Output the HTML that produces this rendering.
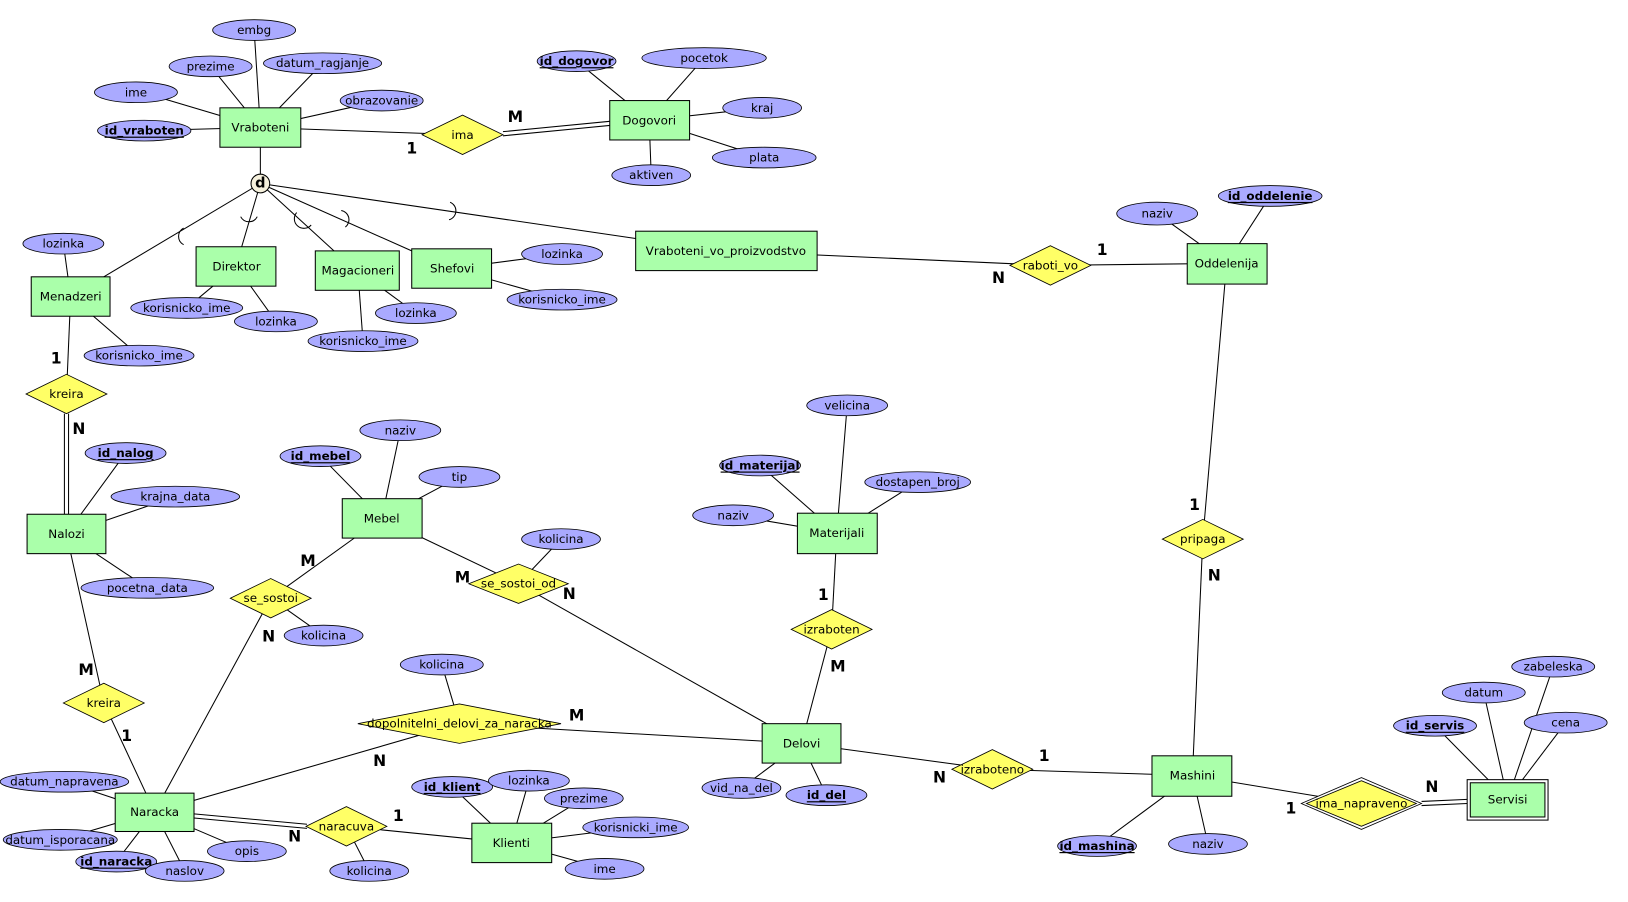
<!DOCTYPE html>
<html><head><meta charset="utf-8"><style>
html,body{margin:0;padding:0;background:#fff;}
svg{display:block;}
text{font-family:"DejaVu Sans","Liberation Sans",sans-serif;font-size:11.5px;fill:#000;text-anchor:middle;dominant-baseline:central;}
.b{font-weight:bold;text-decoration:underline;}
.c{font-weight:bold;font-size:15px;}
.en{fill:#aaffaa;stroke:#000;stroke-width:1;}
.at{fill:#aaaaff;stroke:#000;stroke-width:0.8;}
.rl{fill:#ffff66;stroke:#000;stroke-width:0.8;}
line,path.l{stroke:#000;stroke-width:1;fill:none;}
</style></head><body>
<svg width="1628" height="902" viewBox="0 0 1570 870" xmlns="http://www.w3.org/2000/svg">
<g id="lines">
<!-- Vraboteni attrs -->
<line x1="251" y1="123" x2="245" y2="29"/><line x1="251" y1="123" x2="203" y2="64"/><line x1="251" y1="123" x2="311" y2="61"/>
<line x1="251" y1="123" x2="150" y2="93"/><line x1="251" y1="123" x2="368" y2="97"/><line x1="251" y1="123" x2="139" y2="126"/>
<!-- Dogovori attrs -->
<line x1="626" y1="116" x2="556" y2="59"/><line x1="626" y1="116" x2="679" y2="56"/><line x1="626" y1="116" x2="735" y2="104"/>
<line x1="626" y1="116" x2="737" y2="152"/><line x1="626" y1="116" x2="628" y2="169"/>
<line x1="251" y1="123" x2="446" y2="130"/>
<line x1="485" y1="127" x2="588" y2="117"/><line x1="485" y1="131" x2="588" y2="121"/>
<!-- ISA -->
<line x1="251" y1="142" x2="251" y2="177"/>
<line x1="251" y1="177" x2="100" y2="267"/><line x1="251" y1="177" x2="233" y2="238"/>
<line x1="251" y1="177" x2="322" y2="242"/><line x1="251" y1="177" x2="397" y2="242"/>
<line x1="251" y1="177" x2="613" y2="230"/>
<path class="l" d="M177 220 A9 9 0 0 0 177 236"/>
<path class="l" d="M232 209 A9 9 0 0 0 248 209"/>
<path class="l" d="M286 205 A9 9 0 0 0 300 217"/>
<path class="l" d="M329 203 A9 9 0 0 1 333 219"/>
<path class="l" d="M434 195 A9 9 0 0 1 433 212"/>
<!-- sub attrs -->
<line x1="68" y1="286" x2="61" y2="235"/><line x1="68" y1="286" x2="134" y2="343"/>
<line x1="228" y1="257" x2="180" y2="297"/><line x1="228" y1="257" x2="266" y2="310"/>
<line x1="345" y1="261" x2="401" y2="302"/><line x1="345" y1="261" x2="350" y2="329"/>
<line x1="435" y1="259" x2="542" y2="245"/><line x1="435" y1="259" x2="542" y2="289"/>
<!-- raboti_vo -->
<line x1="700" y1="242" x2="1013" y2="256"/><line x1="1013" y1="256" x2="1183" y2="254"/>
<line x1="1183" y1="254" x2="1116" y2="206"/><line x1="1183" y1="254" x2="1225" y2="189"/>
<line x1="1183" y1="254" x2="1160" y2="520"/><line x1="1160" y1="520" x2="1150" y2="748"/>
<!-- kreira top -->
<line x1="68" y1="286" x2="64" y2="380"/>
<line x1="62" y1="399" x2="62" y2="496"/><line x1="66" y1="399" x2="66" y2="496"/>
<line x1="64" y1="515" x2="121" y2="437"/><line x1="64" y1="515" x2="169" y2="479"/><line x1="64" y1="515" x2="142" y2="567"/>
<line x1="64" y1="515" x2="100" y2="678"/><line x1="100" y1="678" x2="149" y2="783"/>
<!-- Mebel -->
<line x1="368" y1="500" x2="386" y2="415"/><line x1="368" y1="500" x2="309" y2="440"/><line x1="368" y1="500" x2="443" y2="460"/>
<line x1="368" y1="500" x2="261" y2="577"/><line x1="261" y1="577" x2="149" y2="783"/><line x1="261" y1="577" x2="312" y2="613"/>
<line x1="368" y1="500" x2="500" y2="563"/><line x1="500" y1="563" x2="773" y2="717"/><line x1="500" y1="563" x2="541" y2="520"/>
<!-- Materijali -->
<line x1="807" y1="514" x2="817" y2="391"/><line x1="807" y1="514" x2="733" y2="449"/><line x1="807" y1="514" x2="885" y2="465"/><line x1="807" y1="514" x2="707" y2="497"/>
<line x1="807" y1="514" x2="802" y2="607"/><line x1="802" y1="607" x2="773" y2="717"/>
<!-- dopoln -->
<line x1="149" y1="783" x2="443" y2="698"/><line x1="443" y1="698" x2="773" y2="717"/><line x1="443" y1="698" x2="426" y2="641"/>
<!-- Delovi -->
<line x1="773" y1="717" x2="715" y2="760"/><line x1="773" y1="717" x2="797" y2="767"/>
<line x1="773" y1="717" x2="957" y2="742"/><line x1="957" y1="742" x2="1150" y2="748"/>
<!-- Mashini -->
<line x1="1150" y1="748" x2="1058" y2="816"/><line x1="1150" y1="748" x2="1165" y2="814"/>
<line x1="1150" y1="748" x2="1313" y2="775"/>
<line x1="1371" y1="773" x2="1415" y2="771"/><line x1="1371" y1="777" x2="1415" y2="775"/>
<!-- Servisi -->
<line x1="1454" y1="771" x2="1384" y2="700"/><line x1="1454" y1="771" x2="1431" y2="668"/><line x1="1454" y1="771" x2="1498" y2="643"/><line x1="1454" y1="771" x2="1510" y2="697"/>
<!-- Naracka -->
<line x1="149" y1="783" x2="62" y2="754"/><line x1="149" y1="783" x2="58" y2="810"/><line x1="149" y1="783" x2="112" y2="831"/>
<line x1="149" y1="783" x2="178" y2="840"/><line x1="149" y1="783" x2="238" y2="821"/>
<line x1="187" y1="785" x2="296" y2="795"/><line x1="187" y1="789" x2="296" y2="799"/>
<line x1="334" y1="797" x2="493" y2="813"/><line x1="334" y1="797" x2="356" y2="840"/>
<!-- Klienti -->
<line x1="493" y1="813" x2="436" y2="759"/><line x1="493" y1="813" x2="510" y2="753"/><line x1="493" y1="813" x2="563" y2="770"/>
<line x1="493" y1="813" x2="613" y2="798"/><line x1="493" y1="813" x2="583" y2="838"/>
</g>

<g id="entities">
<rect class="en" x="212" y="104" width="78" height="38"/><text x="251" y="123">Vraboteni</text>
<rect class="en" x="588" y="97" width="77" height="38"/><text x="626" y="116">Dogovori</text>
<rect class="en" x="613" y="223" width="175" height="38"/><text x="700" y="242">Vraboteni_vo_proizvodstvo</text>
<rect class="en" x="1145" y="235" width="77" height="39"/><text x="1183" y="254">Oddelenija</text>
<rect class="en" x="30" y="267" width="76" height="38"/><text x="68" y="286">Menadzeri</text>
<rect class="en" x="189" y="238" width="77" height="38"/><text x="228" y="257">Direktor</text>
<rect class="en" x="304" y="242" width="81" height="38"/><text x="345" y="261">Magacioneri</text>
<rect class="en" x="397" y="240" width="77" height="38"/><text x="436" y="259">Shefovi</text>
<rect class="en" x="26" y="496" width="76" height="38"/><text x="64" y="515">Nalozi</text>
<rect class="en" x="330" y="481" width="77" height="38"/><text x="368" y="500">Mebel</text>
<rect class="en" x="769" y="495" width="77" height="39"/><text x="807" y="514">Materijali</text>
<rect class="en" x="735" y="698" width="76" height="38"/><text x="773" y="717">Delovi</text>
<rect class="en" x="1111" y="729" width="77" height="39"/><text x="1150" y="748">Mashini</text>
<rect x="1415" y="752" width="78" height="39" fill="#fff" stroke="#000"/><rect class="en" x="1418" y="755" width="72" height="33"/><text x="1454" y="771">Servisi</text>
<rect class="en" x="111" y="765" width="76" height="37"/><text x="149" y="783">Naracka</text>
<rect class="en" x="455" y="794" width="77" height="38"/><text x="493" y="813">Klienti</text>
</g>

<g id="rels">
<polygon class="rl" points="407,130 446,111 485,130 446,149"/><text x="446" y="130">ima</text>
<polygon class="rl" points="974,256 1013,237 1052,256 1013,275"/><text x="1013" y="256">raboti_vo</text>
<polygon class="rl" points="25,380 64,361 103,380 64,399"/><text x="64" y="380">kreira</text>
<polygon class="rl" points="1121,520 1160,501 1199,520 1160,539"/><text x="1160" y="520">pripaga</text>
<polygon class="rl" points="61,678 100,659 139,678 100,697"/><text x="100" y="678">kreira</text>
<polygon class="rl" points="222,577 261,558 300,577 261,596"/><text x="261" y="577">se_sostoi</text>
<polygon class="rl" points="452,563 500,544 548,563 500,582"/><text x="500" y="563">se_sostoi_od</text>
<polygon class="rl" points="763,607 802,588 841,607 802,626"/><text x="802" y="607">izraboten</text>
<polygon class="rl" points="345,698 443,679 541,698 443,717"/><text x="443" y="698">dopolnitelni_delovi_za_naracka</text>
<polygon class="rl" points="918,742 957,723 996,742 957,761"/><text x="957" y="742">izraboteno</text>
<polygon class="rl" points="295,797 334,778 373,797 334,816"/><text x="334" y="797">naracuva</text>
<polygon points="1255,775 1313,750 1371,775 1313,800" fill="#fff" stroke="#000" stroke-width="0.8"/>
<polygon class="rl" points="1260,775 1313,753 1366,775 1313,797"/><text x="1313" y="775">ima_napraveno</text>
</g>

<circle cx="251" cy="177" r="9" fill="#f5f0dc" stroke="#000"/><text x="251" y="177" style="font-weight:bold;font-size:14px">d</text>

<g id="attrs">
<ellipse class="at" cx="245" cy="29" rx="40" ry="10"/><text x="245" y="29">embg</text>
<ellipse class="at" cx="203" cy="64" rx="40" ry="10"/><text x="203" y="64">prezime</text>
<ellipse class="at" cx="311" cy="61" rx="57" ry="10"/><text x="311" y="61">datum_ragjanje</text>
<ellipse class="at" cx="131" cy="89" rx="40" ry="10"/><text x="131" y="89">ime</text>
<ellipse class="at" cx="368" cy="97" rx="40" ry="10"/><text x="368" y="97">obrazovanie</text>
<ellipse class="at" cx="139" cy="126" rx="45" ry="10"/><text class="b" x="139" y="126">id_vraboten</text>
<ellipse class="at" cx="556" cy="59" rx="38" ry="10"/><text class="b" x="556" y="59">id_dogovor</text>
<ellipse class="at" cx="679" cy="56" rx="60" ry="10"/><text x="679" y="56">pocetok</text>
<ellipse class="at" cx="735" cy="104" rx="38" ry="10"/><text x="735" y="104">kraj</text>
<ellipse class="at" cx="737" cy="152" rx="50" ry="10"/><text x="737" y="152">plata</text>
<ellipse class="at" cx="628" cy="169" rx="38" ry="10"/><text x="628" y="169">aktiven</text>
<ellipse class="at" cx="1116" cy="206" rx="39" ry="11"/><text x="1116" y="206">naziv</text>
<ellipse class="at" cx="1225" cy="189" rx="50" ry="10"/><text class="b" x="1225" y="189">id_oddelenie</text>
<ellipse class="at" cx="61" cy="235" rx="39" ry="10"/><text x="61" y="235">lozinka</text>
<ellipse class="at" cx="180" cy="297" rx="54" ry="10"/><text x="180" y="297">korisnicko_ime</text>
<ellipse class="at" cx="266" cy="310" rx="40" ry="10"/><text x="266" y="310">lozinka</text>
<ellipse class="at" cx="401" cy="302" rx="39" ry="10"/><text x="401" y="302">lozinka</text>
<ellipse class="at" cx="350" cy="329" rx="53" ry="10"/><text x="350" y="329">korisnicko_ime</text>
<ellipse class="at" cx="542" cy="245" rx="39" ry="10"/><text x="542" y="245">lozinka</text>
<ellipse class="at" cx="542" cy="289" rx="53" ry="10"/><text x="542" y="289">korisnicko_ime</text>
<ellipse class="at" cx="134" cy="343" rx="53" ry="10"/><text x="134" y="343">korisnicko_ime</text>
<ellipse class="at" cx="121" cy="437" rx="39" ry="10"/><text class="b" x="121" y="437">id_nalog</text>
<ellipse class="at" cx="169" cy="479" rx="62" ry="10"/><text x="169" y="479">krajna_data</text>
<ellipse class="at" cx="142" cy="567" rx="64" ry="10"/><text x="142" y="567">pocetna_data</text>
<ellipse class="at" cx="386" cy="415" rx="39" ry="10"/><text x="386" y="415">naziv</text>
<ellipse class="at" cx="309" cy="440" rx="39" ry="10"/><text class="b" x="309" y="440">id_mebel</text>
<ellipse class="at" cx="443" cy="460" rx="39" ry="10"/><text x="443" y="460">tip</text>
<ellipse class="at" cx="541" cy="520" rx="38" ry="10"/><text x="541" y="520">kolicina</text>
<ellipse class="at" cx="312" cy="613" rx="38" ry="10"/><text x="312" y="613">kolicina</text>
<ellipse class="at" cx="817" cy="391" rx="39" ry="10"/><text x="817" y="391">velicina</text>
<ellipse class="at" cx="733" cy="449" rx="39" ry="10"/><text class="b" x="733" y="449">id_materijal</text>
<ellipse class="at" cx="885" cy="465" rx="51" ry="10"/><text x="885" y="465">dostapen_broj</text>
<ellipse class="at" cx="707" cy="497" rx="39" ry="10"/><text x="707" y="497">naziv</text>
<ellipse class="at" cx="426" cy="641" rx="40" ry="10"/><text x="426" y="641">kolicina</text>
<ellipse class="at" cx="715" cy="760" rx="38" ry="10"/><text x="715" y="760">vid_na_del</text>
<ellipse class="at" cx="797" cy="767" rx="39" ry="10"/><text class="b" x="797" y="767">id_del</text>
<ellipse class="at" cx="62" cy="754" rx="62" ry="10"/><text x="62" y="754">datum_napravena</text>
<ellipse class="at" cx="58" cy="810" rx="55" ry="10"/><text x="58" y="810">datum_isporacana</text>
<ellipse class="at" cx="112" cy="831" rx="39" ry="10"/><text class="b" x="112" y="831">id_naracka</text>
<ellipse class="at" cx="178" cy="840" rx="38" ry="10"/><text x="178" y="840">naslov</text>
<ellipse class="at" cx="238" cy="821" rx="38" ry="10"/><text x="238" y="821">opis</text>
<ellipse class="at" cx="356" cy="840" rx="38" ry="10"/><text x="356" y="840">kolicina</text>
<ellipse class="at" cx="436" cy="759" rx="39" ry="10"/><text class="b" x="436" y="759">id_klient</text>
<ellipse class="at" cx="510" cy="753" rx="39" ry="10"/><text x="510" y="753">lozinka</text>
<ellipse class="at" cx="563" cy="770" rx="38" ry="10"/><text x="563" y="770">prezime</text>
<ellipse class="at" cx="613" cy="798" rx="51" ry="10"/><text x="613" y="798">korisnicki_ime</text>
<ellipse class="at" cx="583" cy="838" rx="38" ry="10"/><text x="583" y="838">ime</text>
<ellipse class="at" cx="1058" cy="816" rx="38" ry="10"/><text class="b" x="1058" y="816">id_mashina</text>
<ellipse class="at" cx="1165" cy="814" rx="38" ry="10"/><text x="1165" y="814">naziv</text>
<ellipse class="at" cx="1384" cy="700" rx="40" ry="10"/><text class="b" x="1384" y="700">id_servis</text>
<ellipse class="at" cx="1431" cy="668" rx="40" ry="10"/><text x="1431" y="668">datum</text>
<ellipse class="at" cx="1498" cy="643" rx="40" ry="10"/><text x="1498" y="643">zabeleska</text>
<ellipse class="at" cx="1510" cy="697" rx="40" ry="10"/><text x="1510" y="697">cena</text>
</g>

<g id="card">
<text class="c" x="497" y="113">M</text><text class="c" x="397" y="143">1</text>
<text class="c" x="1063" y="241">1</text><text class="c" x="963" y="268">N</text>
<text class="c" x="54" y="346">1</text><text class="c" x="76" y="414">N</text>
<text class="c" x="1152" y="487">1</text><text class="c" x="1171" y="555">N</text>
<text class="c" x="297" y="541">M</text><text class="c" x="259" y="614">N</text>
<text class="c" x="446" y="557">M</text><text class="c" x="549" y="573">N</text>
<text class="c" x="794" y="574">1</text><text class="c" x="808" y="643">M</text>
<text class="c" x="83" y="646">M</text><text class="c" x="122" y="710">1</text>
<text class="c" x="556" y="690">M</text><text class="c" x="366" y="734">N</text>
<text class="c" x="1007" y="729">1</text><text class="c" x="906" y="750">N</text>
<text class="c" x="384" y="787">1</text><text class="c" x="284" y="807">N</text>
<text class="c" x="1381" y="759">N</text><text class="c" x="1245" y="780">1</text>
</g>
</svg>
</body></html>
